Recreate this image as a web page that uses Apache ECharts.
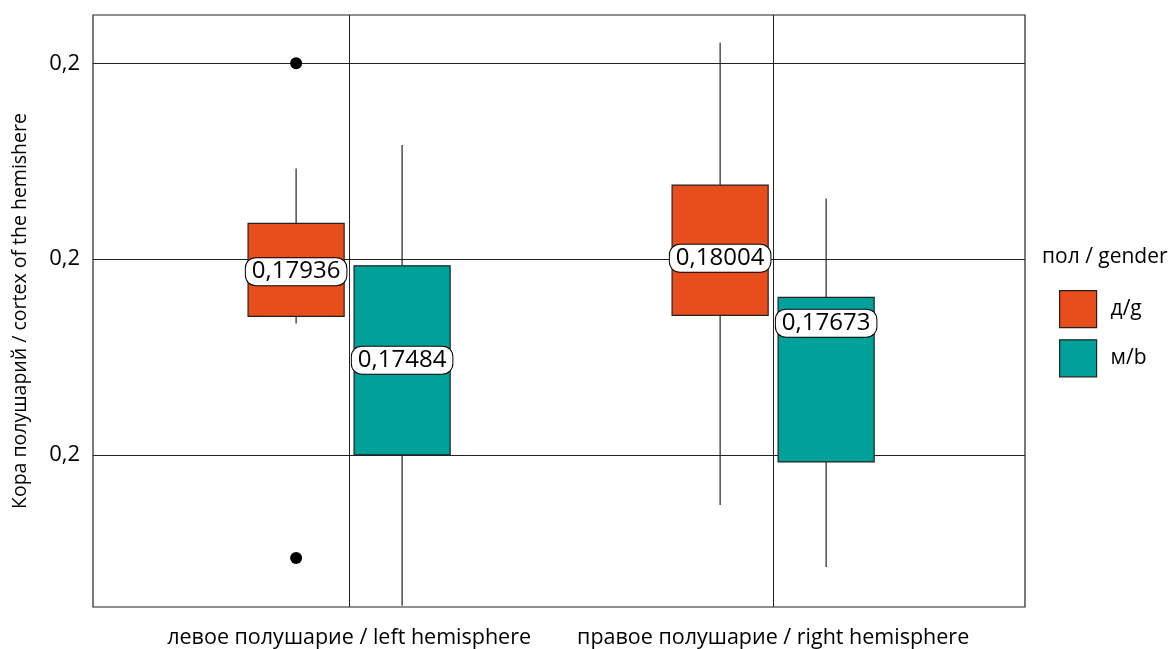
<!DOCTYPE html>
<html>
<head>
<meta charset="utf-8">
<script src="https://cdn.jsdelivr.net/npm/echarts@6/dist/echarts.min.js"></script>
<style>
html,body{margin:0;padding:0;background:#fff;}
#chart{width:1173px;height:649px;}
</style>
</head>
<body>
<div id="chart"></div>
<script>
// Categories (hemispheres)
const categories = ['левое полушарие / left hemisphere', 'правое полушарие / right hemisphere'];
const seriesNames = ['д/g', 'м/b'];
// Box statistics per category: [lower whisker, Q1, median, Q3, upper whisker]
const girlsStats = [
  [0.176714, 0.177072, 0.17936, 0.181824, 0.184635],
  [0.167445, 0.177123, 0.18004, 0.183781, 0.191053]
];
const boysStats = [
  [0.16230, 0.170000, 0.17484, 0.179658, 0.185825],
  [0.164277, 0.169642, 0.17673, 0.178043, 0.183102]
];
// Outliers: [category index, value]
const girlsOutliers = [[0, 0.19000], [0, 0.164737]];
const boysOutliers = [];
// Y tick values
const yTicks = [0.17, 0.18, 0.19];

const FONT = '"Open Sans", "Noto Sans", sans-serif';
const COLORS = ['#E84E1B', '#00A19A'];
const DODGE = [-0.125, 0.125];
const BOX_W = 0.2266;

function fmtComma(v, d) { return v.toFixed(d).replace('.', ','); }

function boxRenderer(offset) {
  return function (params, api) {
    const c = api.value(0) + offset;
    const low = api.coord([c, api.value(1)]);
    const q1 = api.coord([c, api.value(2)]);
    const med = api.coord([c, api.value(3)]);
    const q3 = api.coord([c, api.value(4)]);
    const high = api.coord([c, api.value(5)]);
    const w = api.size([BOX_W, 0])[0];
    const color = api.visual('color');
    const ls = { stroke: '#222', lineWidth: 1.2 };
    return {
      type: 'group',
      children: [
        { type: 'line', shape: { x1: low[0], y1: low[1], x2: q1[0], y2: q1[1] }, style: ls },
        { type: 'line', shape: { x1: q3[0], y1: q3[1], x2: high[0], y2: high[1] }, style: ls },
        { type: 'rect', shape: { x: q3[0] - w / 2, y: q3[1], width: w, height: q1[1] - q3[1] },
          style: { fill: color, stroke: '#222', lineWidth: 1.2 } },
        { type: 'line', shape: { x1: med[0] - w / 2, y1: med[1], x2: med[0] + w / 2, y2: med[1] }, style: ls },
        { type: 'text', x: med[0], y: med[1], z2: 100,
          style: { text: fmtComma(api.value(3), 5), fill: '#000', font: '24px ' + FONT,
            align: 'center', verticalAlign: 'middle', backgroundColor: '#fff',
            borderColor: '#000', borderWidth: 1, borderRadius: 10, padding: [3, 6, 0, 6] } }
      ]
    };
  };
}

function outlierRenderer(offset) {
  return function (params, api) {
    const p = api.coord([api.value(0) + offset, api.value(1)]);
    return { type: 'circle', shape: { cx: p[0], cy: p[1], r: 6 }, style: { fill: '#000' } };
  };
}

const statsList = [girlsStats, boysStats];
const outList = [girlsOutliers, boysOutliers];
const series = [];
statsList.forEach(function (stats, si) {
  series.push({
    type: 'custom', name: seriesNames[si], clip: true,
    itemStyle: { color: COLORS[si] },
    renderItem: boxRenderer(DODGE[si]),
    encode: { x: 0, y: [1, 2, 3, 4, 5] },
    data: stats.map(function (s, i) { return [i + 1].concat(s); }),
    z: 3 + si
  });
});
outList.forEach(function (outs, si) {
  if (!outs.length) return;
  series.push({
    type: 'custom', name: seriesNames[si], clip: true,
    itemStyle: { color: COLORS[si] },
    renderItem: outlierRenderer(DODGE[si]),
    encode: { x: 0, y: 1 },
    data: outs.map(function (o) { return [o[0] + 1, o[1]]; }),
    z: 2
  });
});

const chart = echarts.init(document.getElementById('chart'));
chart.setOption({
  animation: false,
  backgroundColor: '#fff',
  textStyle: { fontFamily: FONT },
  grid: { left: 93, right: 148, top: 15, bottom: 42, show: true, borderColor: '#222', borderWidth: 1.2,
    backgroundColor: '#fff', containLabel: false, outerBoundsMode: 'none' },
  xAxis: {
    type: 'value', min: 0.396, max: 2.594,
    axisLine: { show: false },
    axisTick: { show: false, customValues: [1, 2] },
    axisLabel: { customValues: [1, 2], formatter: function (v) { return categories[Math.round(v) - 1] || ''; },
      color: '#000', fontSize: 21.5, margin: 20, fontFamily: FONT },
    splitLine: { show: true, lineStyle: { color: '#222', width: 1 } }
  },
  yAxis: {
    type: 'value', min: 0.16223, max: 0.19247,
    name: 'Кора полушарий / cortex of the hemishere',
    nameLocation: 'middle', nameGap: 63,
    nameTextStyle: { color: '#000', fontSize: 19.5, fontFamily: FONT },
    axisLine: { show: false },
    axisTick: { show: false, customValues: yTicks },
    axisLabel: { customValues: yTicks, formatter: function (v) { return fmtComma(v, 1); },
      color: '#000', fontSize: 22, margin: 13, fontFamily: FONT },
    splitLine: { show: true, lineStyle: { color: '#222', width: 1 } }
  },
  legend: {
    data: seriesNames, orient: 'vertical', left: 1059, top: 290, padding: 0,
    icon: 'rect', itemWidth: 37, itemHeight: 37, itemGap: 11,
    itemStyle: { borderColor: '#222', borderWidth: 1.2 },
    textStyle: { color: '#000', fontSize: 21, fontFamily: FONT, padding: [0, 0, 0, 9] },
    selectedMode: false
  },
  graphic: [
    { type: 'text', left: 1042, top: 247, style: { text: 'пол / gender', fill: '#000', font: '21px ' + FONT } }
  ],
  series: series
});
</script>
</body>
</html>
